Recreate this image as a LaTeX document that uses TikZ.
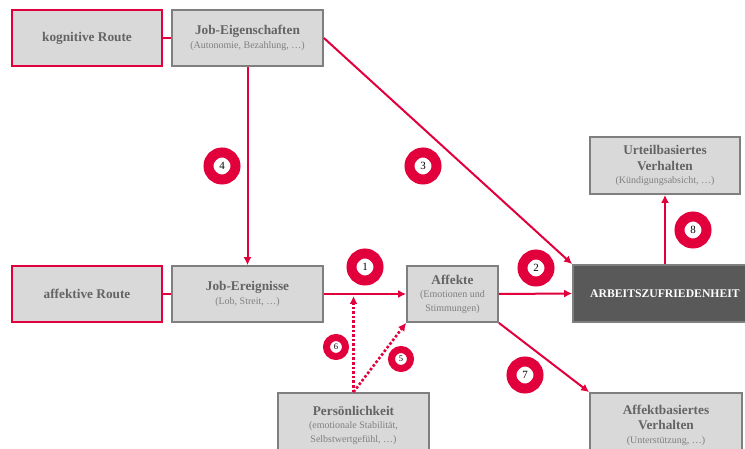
\documentclass[tikz,border=0pt]{standalone}
\usepackage{fontspec}
\setmainfont{Liberation Serif}
\usetikzlibrary{arrows.meta}
\definecolor{accent}{HTML}{E2003C}
\definecolor{boxfill}{HTML}{D9D9D9}
\definecolor{boxline}{HTML}{7F7F7F}
\definecolor{titlegray}{HTML}{646464}
\definecolor{subgray}{HTML}{808080}
\definecolor{darkbox}{HTML}{595959}
% smaller, lighter line under a box title
\newcommand\subtxt[1]{{\normalfont\fontsize{10}{12}\selectfont\color{subgray}#1}}
\tikzset{
  x=1pt, y=-1pt,
  box/.style={draw=boxline, fill=boxfill, line width=1.8pt, align=center,
    inner sep=0pt, text=titlegray, font=\bfseries\fontsize{13.3}{15.5}\selectfont},
  routebox/.style={box, draw=accent},
  conn/.style={draw=accent, line width=2pt},
  arr/.style={conn, -{Latex[length=8pt,width=8pt]}},
  dotarr/.style={conn, line width=2.6pt, dotted, -{Latex[length=8pt,width=8pt]}},
  bignum/.style={circle, draw=accent, line width=10pt, fill=white, minimum size=27pt,
    inner sep=0pt, font=\fontsize{11}{11}\selectfont},
  smallnum/.style={circle, draw=accent, line width=7pt, fill=white, minimum size=19pt,
    inner sep=0pt, font=\fontsize{8.5}{8.5}\selectfont},
}
\begin{document}
\begin{tikzpicture}
\useasboundingbox (0,0) rectangle (745,449);
\clip (0,0) rectangle (745,449);

% boxes
\node[routebox, minimum width=150pt, minimum height=56pt] (kog) at (87,38) {kognitive Route};
\node[box, minimum width=151pt, minimum height=56pt] (eig) at (247.5,38)
  {Job-Eigenschaften\\[-2pt] \subtxt{(Autonomie, Bezahlung, \ldots)}};
\node[routebox, minimum width=150pt, minimum height=56pt] (aff) at (87,294) {affektive Route};
\node[box, minimum width=151pt, minimum height=56pt] (ereig) at (247.5,294)
  {Job-Ereignisse\\[-2pt] \subtxt{(Lob, Streit, \ldots)}};
\node[box, minimum width=91pt, minimum height=56pt] (affekte) at (452.5,294)
  {Affekte\\[-2pt] \subtxt{(Emotionen und}\\[-2pt] \subtxt{Stimmungen)}};
\node[draw=boxline, fill=darkbox, line width=1.8pt, minimum width=184pt, minimum height=57pt,
  inner sep=0pt, text=white, font=\bfseries\fontsize{11.7}{14}\selectfont] (az) at (665,293.5)
  {ARBEITSZUFRIEDENHEIT};
\node[box, minimum width=150pt, minimum height=57pt] (urteil) at (665,165.5)
  {Urteilbasiertes\\Verhalten\\[-2pt] \subtxt{(Kündigungsabsicht, \ldots)}};
\node[box, minimum width=152pt, minimum height=64pt] (affv) at (666,425)
  {Affektbasiertes\\Verhalten\\[-2pt] \subtxt{(Unterstützung, \ldots)}};
\node[box, minimum width=151pt, minimum height=64pt] (pers) at (353.5,425)
  {Persönlichkeit\\[-2pt] \subtxt{(emotionale Stabilität,}\\[-2pt] \subtxt{Selbstwertgefühl, \ldots)}};

% connectors
\draw[conn] (kog.east) -- (eig.west);
\draw[conn] (aff.east) -- (ereig.west);
\draw[arr] (eig.south) -- (ereig.north);
\draw[arr] (eig.east) -- (az.north west);
\draw[arr] (ereig.east) -- (affekte.west);
\draw[arr] (affekte.east) -- (az.west);
\draw[arr] (az.north) -- (urteil.south);
\draw[arr] (affekte.south east) -- (affv.north west);
\coordinate (onone) at (353.5,296);
\draw[dotarr] (pers.north) -- (onone);
\draw[dotarr] (pers.north) -- (affekte.south west);

% path numbers
\node[bignum] (n1) at (365,267) {1};
\node[bignum] (n2) at (536,268) {2};
\node[bignum] (n3) at (423,166) {3};
\node[bignum] (n4) at (222,166) {4};
\node[smallnum] (n5) at (401,359) {5};
\node[smallnum] (n6) at (336,347) {6};
\node[bignum] (n7) at (525,375) {7};
\node[bignum] (n8) at (693,230) {8};
\end{tikzpicture}
\end{document}
